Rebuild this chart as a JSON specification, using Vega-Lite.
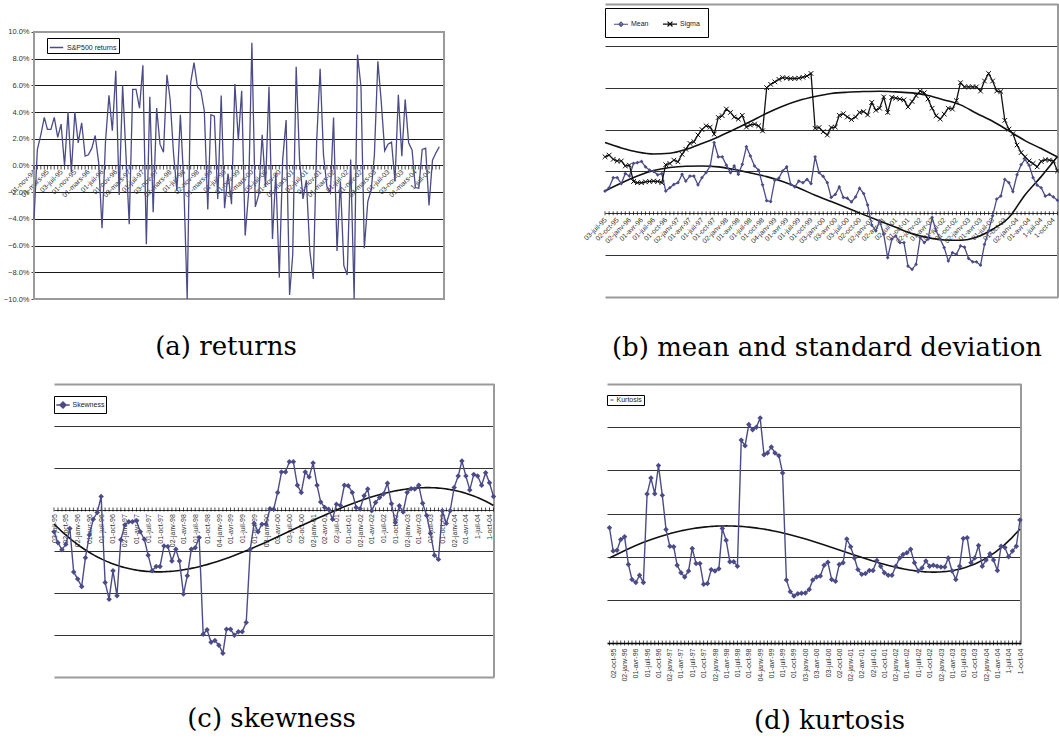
{
"$schema":"https://vega.github.io/schema/vega-lite/v6.json",
"padding":{"left":3,"top":3,"right":0,"bottom":0},
"background":"white",
"config":{"view":{"stroke":"#9a9a9a","strokeWidth":2},"axis":{"labelFont":"Liberation Sans","labelColor":"#333"},"legend":{"labelFont":"Liberation Sans","labelColor":"#222"},"title":{"font":"DejaVu Serif","fontSize":26,"fontWeight":"normal","color":"#000"}},
"spacing":22,
"resolve":{"scale":{"color":"independent"},"legend":{"color":"independent"}},
"vconcat":[
{"spacing":120,"resolve":{"scale":{"color":"independent"},"legend":{"color":"independent"}},"hconcat":[
{"width":410,"height":295,
"view":{"stroke":null},
"title":{"text":"(a) returns","orient":"bottom","frame":"group","anchor":"middle","baseline":"middle","offset":44,"dx":-13},
"data":{"format":{"parse":{"d":"date"}},"values":[
{"d":"1994-11-01","r":-4.05},{"d":"1994-12-01","r":1.2},{"d":"1995-01-01","r":2.3},{"d":"1995-02-01","r":3.6},{"d":"1995-03-01","r":2.7},{"d":"1995-04-01","r":2.7},{"d":"1995-05-01","r":3.6},{"d":"1995-06-01","r":2.1},{"d":"1995-07-01","r":3.1},{"d":"1995-08-01","r":0},{"d":"1995-09-01","r":4.0},{"d":"1995-10-01","r":-0.5},{"d":"1995-11-01","r":4.0},{"d":"1995-12-01","r":1.7},
{"d":"1996-01-01","r":3.2},{"d":"1996-02-01","r":0.7},{"d":"1996-03-01","r":0.8},{"d":"1996-04-01","r":1.3},{"d":"1996-05-01","r":2.25},{"d":"1996-06-01","r":0.2},{"d":"1996-07-01","r":-4.7},{"d":"1996-08-01","r":1.8},{"d":"1996-09-01","r":5.25},{"d":"1996-10-01","r":2.6},{"d":"1996-11-01","r":7.1},{"d":"1996-12-01","r":-2.2},
{"d":"1997-01-01","r":6.0},{"d":"1997-02-01","r":0.6},{"d":"1997-03-01","r":-4.4},{"d":"1997-04-01","r":5.7},{"d":"1997-05-01","r":5.7},{"d":"1997-06-01","r":4.3},{"d":"1997-07-01","r":7.5},{"d":"1997-08-01","r":-5.9},{"d":"1997-09-01","r":5.15},{"d":"1997-10-01","r":-3.5},{"d":"1997-11-01","r":4.3},{"d":"1997-12-01","r":1.6},
{"d":"1998-01-01","r":1.0},{"d":"1998-02-01","r":6.8},{"d":"1998-03-01","r":5.0},{"d":"1998-04-01","r":0.9},{"d":"1998-05-01","r":-1.9},{"d":"1998-06-01","r":3.8},{"d":"1998-07-01","r":-1.2},{"d":"1998-08-01","r":-10},{"d":"1998-09-01","r":6.2},{"d":"1998-10-01","r":7.7},{"d":"1998-11-01","r":5.9},{"d":"1998-12-01","r":5.6},
{"d":"1999-01-01","r":4.1},{"d":"1999-02-01","r":-3.3},{"d":"1999-03-01","r":3.8},{"d":"1999-04-01","r":3.7},{"d":"1999-05-01","r":-2.5},{"d":"1999-06-01","r":5.25},{"d":"1999-07-01","r":-3.2},{"d":"1999-08-01","r":-0.6},{"d":"1999-09-01","r":-2.9},{"d":"1999-10-01","r":6.1},{"d":"1999-11-01","r":1.9},{"d":"1999-12-01","r":5.6},
{"d":"2000-01-01","r":-5.25},{"d":"2000-02-01","r":-2.05},{"d":"2000-03-01","r":9.2},{"d":"2000-04-01","r":-3.1},{"d":"2000-05-01","r":-2.2},{"d":"2000-06-01","r":2.3},{"d":"2000-07-01","r":-1.6},{"d":"2000-08-01","r":5.9},{"d":"2000-09-01","r":-5.5},{"d":"2000-10-01","r":-0.55},{"d":"2000-11-01","r":-8.4},{"d":"2000-12-01","r":0.4},
{"d":"2001-01-01","r":3.4},{"d":"2001-02-01","r":-9.7},{"d":"2001-03-01","r":-6.7},{"d":"2001-04-01","r":7.4},{"d":"2001-05-01","r":0.45},{"d":"2001-06-01","r":-2.5},{"d":"2001-07-01","r":-1.1},{"d":"2001-08-01","r":-6.4},{"d":"2001-09-01","r":-8.5},{"d":"2001-10-01","r":1.8},{"d":"2001-11-01","r":7.25},{"d":"2001-12-01","r":0.8},
{"d":"2002-01-01","r":-1.6},{"d":"2002-02-01","r":-2.05},{"d":"2002-03-01","r":3.6},{"d":"2002-04-01","r":-6.4},{"d":"2002-05-01","r":-1.2},{"d":"2002-06-01","r":-7.5},{"d":"2002-07-01","r":-8.2},{"d":"2002-08-01","r":0.45},{"d":"2002-09-01","r":-10},{"d":"2002-10-01","r":8.3},{"d":"2002-11-01","r":5.9},{"d":"2002-12-01","r":-6.2},
{"d":"2003-01-01","r":-2.7},{"d":"2003-02-01","r":-1.8},{"d":"2003-03-01","r":0.8},{"d":"2003-04-01","r":7.8},{"d":"2003-05-01","r":4.8},{"d":"2003-06-01","r":1.1},{"d":"2003-07-01","r":1.6},{"d":"2003-08-01","r":1.75},{"d":"2003-09-01","r":-1.2},{"d":"2003-10-01","r":5.3},{"d":"2003-11-01","r":0.7},{"d":"2003-12-01","r":4.95},
{"d":"2004-01-01","r":1.7},{"d":"2004-02-01","r":1.15},{"d":"2004-03-01","r":-1.65},{"d":"2004-04-01","r":-1.7},{"d":"2004-05-01","r":1.2},{"d":"2004-06-01","r":1.3},{"d":"2004-07-01","r":-3.0},{"d":"2004-08-01","r":0.4},{"d":"2004-09-01","r":0.95},{"d":"2004-10-01","r":1.4}]},
"encoding":{
"x":{"field":"d","type":"temporal","scale":{"type":"utc","domain":[{"year":1994,"month":11,"date":1,"utc":true},{"year":2004,"month":11,"date":12,"utc":true}]},
"axis":{"orient":"bottom","offset":-133.5,"labelAngle":-45,"labelAlign":"right","labelBaseline":"middle","labelFontSize":7,"labelPadding":5,"labelOverlap":false,"labelFlush":false,"labelBound":false,"ticks":false,"domain":false,"grid":false,"title":null,
"labelExpr":"(utcyear(datum.value) == 2004 && utcmonth(datum.value) >= 6 ? utcFormat(datum.value, '%-d') : utcFormat(datum.value, '%d')) + '-' + ['janv','févr','mars','avr','mai','juin','juil','août','sept','oct','nov','déc'][utcmonth(datum.value)] + '-' + utcFormat(datum.value, '%y')",
"values":[{"year":1994,"month":11,"date":1,"utc":true},{"year":1995,"month":3,"date":1,"utc":true},{"year":1995,"month":7,"date":3,"utc":true},{"year":1995,"month":11,"date":1,"utc":true},{"year":1996,"month":3,"date":1,"utc":true},{"year":1996,"month":7,"date":1,"utc":true},{"year":1996,"month":11,"date":1,"utc":true},{"year":1997,"month":3,"date":3,"utc":true},{"year":1997,"month":7,"date":1,"utc":true},{"year":1997,"month":11,"date":3,"utc":true},{"year":1998,"month":3,"date":2,"utc":true},{"year":1998,"month":7,"date":1,"utc":true},{"year":1998,"month":11,"date":2,"utc":true},{"year":1999,"month":3,"date":1,"utc":true},{"year":1999,"month":7,"date":1,"utc":true},{"year":1999,"month":11,"date":1,"utc":true},{"year":2000,"month":3,"date":1,"utc":true},{"year":2000,"month":7,"date":3,"utc":true},{"year":2000,"month":11,"date":1,"utc":true},{"year":2001,"month":3,"date":1,"utc":true},{"year":2001,"month":7,"date":2,"utc":true},{"year":2001,"month":11,"date":1,"utc":true},{"year":2002,"month":3,"date":1,"utc":true},{"year":2002,"month":7,"date":1,"utc":true},{"year":2002,"month":11,"date":1,"utc":true},{"year":2003,"month":3,"date":3,"utc":true},{"year":2003,"month":7,"date":1,"utc":true},{"year":2003,"month":11,"date":3,"utc":true},{"year":2004,"month":3,"date":1,"utc":true},{"year":2004,"month":7,"date":1,"utc":true}]}},
"y":{"field":"r","type":"quantitative","scale":{"domain":[-10,12.097],"nice":false,"zero":false},
"axis":{"values":[-10,-8,-6,-4,-2,0,2,4,6,8,10],"labelOverlap":false,"labelExpr":"format(datum.value, '.1f') + '%'","grid":true,"gridColor":"#1a1a1a","gridWidth":1,"tickSize":3,"tickColor":"#444","labelFontSize":7.5,"labelPadding":2,"domain":false,"minExtent":30,"maxExtent":30,"title":null}}},
"layer":[
{"mark":{"type":"rect","fillOpacity":0,"stroke":"#9a9a9a","strokeWidth":2},
"encoding":{
"x":{"datum":{"year":1994,"month":11,"date":1,"utc":true},"type":"temporal",
"axis":{"orient":"bottom","offset":-133.5,"labelAngle":-45,"labelAlign":"right","labelBaseline":"middle","labelFontSize":7,"labelPadding":5,"labelOverlap":false,"labelFlush":false,"labelBound":false,"ticks":false,"domain":false,"grid":false,"title":null,
"labelExpr":"(utcyear(datum.value) == 2004 && utcmonth(datum.value) >= 6 ? utcFormat(datum.value, '%-d') : utcFormat(datum.value, '%d')) + '-' + ['janv','févr','mars','avr','mai','juin','juil','août','sept','oct','nov','déc'][utcmonth(datum.value)] + '-' + utcFormat(datum.value, '%y')",
"values":[{"year":1994,"month":11,"date":1,"utc":true},{"year":1995,"month":3,"date":1,"utc":true},{"year":1995,"month":7,"date":3,"utc":true},{"year":1995,"month":11,"date":1,"utc":true},{"year":1996,"month":3,"date":1,"utc":true},{"year":1996,"month":7,"date":1,"utc":true},{"year":1996,"month":11,"date":1,"utc":true},{"year":1997,"month":3,"date":3,"utc":true},{"year":1997,"month":7,"date":1,"utc":true},{"year":1997,"month":11,"date":3,"utc":true},{"year":1998,"month":3,"date":2,"utc":true},{"year":1998,"month":7,"date":1,"utc":true},{"year":1998,"month":11,"date":2,"utc":true},{"year":1999,"month":3,"date":1,"utc":true},{"year":1999,"month":7,"date":1,"utc":true},{"year":1999,"month":11,"date":1,"utc":true},{"year":2000,"month":3,"date":1,"utc":true},{"year":2000,"month":7,"date":3,"utc":true},{"year":2000,"month":11,"date":1,"utc":true},{"year":2001,"month":3,"date":1,"utc":true},{"year":2001,"month":7,"date":2,"utc":true},{"year":2001,"month":11,"date":1,"utc":true},{"year":2002,"month":3,"date":1,"utc":true},{"year":2002,"month":7,"date":1,"utc":true},{"year":2002,"month":11,"date":1,"utc":true},{"year":2003,"month":3,"date":3,"utc":true},{"year":2003,"month":7,"date":1,"utc":true},{"year":2003,"month":11,"date":3,"utc":true},{"year":2004,"month":3,"date":1,"utc":true},{"year":2004,"month":7,"date":1,"utc":true}]}},
"x2":{"datum":{"year":2004,"month":11,"date":12,"utc":true}},
"y":{"datum":-10,"type":"quantitative",
"axis":{"values":[-10,-8,-6,-4,-2,0,2,4,6,8,10],"labelOverlap":false,"labelExpr":"format(datum.value, '.1f') + '%'","grid":true,"gridColor":"#1a1a1a","gridWidth":1,"tickSize":3,"tickColor":"#444","labelFontSize":7.5,"labelPadding":2,"domain":false,"minExtent":30,"maxExtent":30,"title":null}},
"y2":{"datum":10}}},
{"mark":{"type":"tick","orient":"vertical","size":4,"thickness":1,"color":"#000","yOffset":2},
"encoding":{"y":{"datum":0,"type":"quantitative",
"axis":{"values":[-10,-8,-6,-4,-2,0,2,4,6,8,10],"labelOverlap":false,"labelExpr":"format(datum.value, '.1f') + '%'","grid":true,"gridColor":"#1a1a1a","gridWidth":1,"tickSize":3,"tickColor":"#444","labelFontSize":7.5,"labelPadding":2,"domain":false,"minExtent":30,"maxExtent":30,"title":null}}}},
{"mark":{"type":"line","strokeWidth":1.3},
"encoding":{"color":{"datum":"S&P500 returns","scale":{"range":["#4b4b88"]},
"legend":{"orient":"none","legendX":13,"legendY":34,"title":null,"strokeColor":"#000","fillColor":"#fff","padding":2,"labelFontSize":7,"symbolType":"stroke","symbolSize":180,"symbolStrokeWidth":1.5,"labelOffset":3}}}}
]},
{"width":453,"height":293,
"view":{"stroke":null},
"title":{"text":"(b) mean and standard deviation","orient":"bottom","frame":"group","anchor":"middle","baseline":"middle","offset":50,"dx":-4.5},
"data":{"format":{"parse":{"d":"date"}},"values":[
{"d":"1995-07-01","Mean":0.53,"Sigma":1.35},{"d":"1995-08-01","Mean":0.61,"Sigma":1.39},{"d":"1995-09-01","Mean":0.85,"Sigma":1.29},{"d":"1995-10-01","Mean":0.85,"Sigma":1.25},{"d":"1995-11-01","Mean":0.71,"Sigma":1.25},{"d":"1995-12-01","Mean":0.95,"Sigma":1.13},
{"d":"1996-01-01","Mean":0.89,"Sigma":1.15},{"d":"1996-02-01","Mean":1.19,"Sigma":0.76},{"d":"1996-03-01","Mean":1.21,"Sigma":0.73},{"d":"1996-04-01","Mean":1.24,"Sigma":0.73},{"d":"1996-05-01","Mean":1.11,"Sigma":0.75},{"d":"1996-06-01","Mean":1.03,"Sigma":0.76},{"d":"1996-07-01","Mean":1.0,"Sigma":0.77},{"d":"1996-08-01","Mean":0.92,"Sigma":0.76},{"d":"1996-09-01","Mean":0.95,"Sigma":0.73},{"d":"1996-10-01","Mean":0.53,"Sigma":1.16},{"d":"1996-11-01","Mean":0.61,"Sigma":1.19},{"d":"1996-12-01","Mean":0.69,"Sigma":1.27},
{"d":"1997-01-01","Mean":0.73,"Sigma":1.23},{"d":"1997-02-01","Mean":0.93,"Sigma":1.41},{"d":"1997-03-01","Mean":0.77,"Sigma":1.53},{"d":"1997-04-01","Mean":0.89,"Sigma":1.67},{"d":"1997-05-01","Mean":0.89,"Sigma":1.71},{"d":"1997-06-01","Mean":0.68,"Sigma":1.87},{"d":"1997-07-01","Mean":0.85,"Sigma":2.0},{"d":"1997-08-01","Mean":0.97,"Sigma":2.09},{"d":"1997-09-01","Mean":1.13,"Sigma":2.06},{"d":"1997-10-01","Mean":1.69,"Sigma":1.89},{"d":"1997-11-01","Mean":1.35,"Sigma":2.29},{"d":"1997-12-01","Mean":1.35,"Sigma":2.33},
{"d":"1998-01-01","Mean":1.15,"Sigma":2.49},{"d":"1998-02-01","Mean":0.97,"Sigma":2.41},{"d":"1998-03-01","Mean":1.13,"Sigma":2.3},{"d":"1998-04-01","Mean":0.93,"Sigma":2.25},{"d":"1998-05-01","Mean":1.17,"Sigma":2.34},{"d":"1998-06-01","Mean":1.59,"Sigma":2.06},{"d":"1998-07-01","Mean":1.37,"Sigma":2.11},{"d":"1998-08-01","Mean":1.13,"Sigma":2.13},{"d":"1998-09-01","Mean":1.03,"Sigma":2.09},{"d":"1998-10-01","Mean":0.68,"Sigma":1.97},{"d":"1998-11-01","Mean":0.3,"Sigma":3.0},{"d":"1998-12-01","Mean":0.28,"Sigma":3.08},
{"d":"1999-01-01","Mean":0.79,"Sigma":3.14},{"d":"1999-02-01","Mean":0.84,"Sigma":3.2},{"d":"1999-03-01","Mean":1.01,"Sigma":3.24},{"d":"1999-04-01","Mean":1.11,"Sigma":3.23},{"d":"1999-05-01","Mean":0.69,"Sigma":3.22},{"d":"1999-06-01","Mean":0.63,"Sigma":3.22},{"d":"1999-07-01","Mean":0.77,"Sigma":3.23},{"d":"1999-08-01","Mean":0.73,"Sigma":3.25},{"d":"1999-09-01","Mean":0.81,"Sigma":3.28},{"d":"1999-10-01","Mean":0.71,"Sigma":3.34},{"d":"1999-11-01","Mean":1.35,"Sigma":2.03},{"d":"1999-12-01","Mean":0.97,"Sigma":2.05},
{"d":"2000-01-01","Mean":0.88,"Sigma":1.95},{"d":"2000-02-01","Mean":0.73,"Sigma":1.87},{"d":"2000-03-01","Mean":0.38,"Sigma":2.05},{"d":"2000-04-01","Mean":0.45,"Sigma":2.06},{"d":"2000-05-01","Mean":0.63,"Sigma":2.34},{"d":"2000-06-01","Mean":0.38,"Sigma":2.38},{"d":"2000-07-01","Mean":0.36,"Sigma":2.3},{"d":"2000-08-01","Mean":0.27,"Sigma":2.24},{"d":"2000-09-01","Mean":0.39,"Sigma":2.3},{"d":"2000-10-01","Mean":0.6,"Sigma":2.41},{"d":"2000-11-01","Mean":0.47,"Sigma":2.43},{"d":"2000-12-01","Mean":0.2,"Sigma":2.35},
{"d":"2001-01-01","Mean":-0.28,"Sigma":2.65},{"d":"2001-02-01","Mean":-0.42,"Sigma":2.46},{"d":"2001-03-01","Mean":-0.18,"Sigma":2.51},{"d":"2001-04-01","Mean":-0.5,"Sigma":2.78},{"d":"2001-05-01","Mean":-1.06,"Sigma":2.41},{"d":"2001-06-01","Mean":-0.62,"Sigma":2.77},{"d":"2001-07-01","Mean":-0.54,"Sigma":2.75},{"d":"2001-08-01","Mean":-0.7,"Sigma":2.73},{"d":"2001-09-01","Mean":-0.7,"Sigma":2.71},{"d":"2001-10-01","Mean":-1.26,"Sigma":2.54},{"d":"2001-11-01","Mean":-1.34,"Sigma":2.67},{"d":"2001-12-01","Mean":-1.22,"Sigma":2.81},
{"d":"2002-01-01","Mean":-0.58,"Sigma":2.92},{"d":"2002-02-01","Mean":-0.7,"Sigma":2.88},{"d":"2002-03-01","Mean":-0.62,"Sigma":2.73},{"d":"2002-04-01","Mean":-0.1,"Sigma":2.51},{"d":"2002-05-01","Mean":-0.42,"Sigma":2.33},{"d":"2002-06-01","Mean":-0.62,"Sigma":2.25},{"d":"2002-07-01","Mean":-0.82,"Sigma":2.37},{"d":"2002-08-01","Mean":-1.14,"Sigma":2.51},{"d":"2002-09-01","Mean":-0.94,"Sigma":2.49},{"d":"2002-10-01","Mean":-0.98,"Sigma":2.69},{"d":"2002-11-01","Mean":-0.78,"Sigma":3.12},{"d":"2002-12-01","Mean":-0.81,"Sigma":3.02},
{"d":"2003-01-01","Mean":-1.08,"Sigma":3.02},{"d":"2003-02-01","Mean":-1.16,"Sigma":3.02},{"d":"2003-03-01","Mean":-1.16,"Sigma":3.02},{"d":"2003-04-01","Mean":-1.24,"Sigma":2.92},{"d":"2003-05-01","Mean":-0.74,"Sigma":3.16},{"d":"2003-06-01","Mean":-0.42,"Sigma":3.34},{"d":"2003-07-01","Mean":-0.06,"Sigma":3.16},{"d":"2003-08-01","Mean":0.34,"Sigma":2.92},{"d":"2003-09-01","Mean":0.41,"Sigma":2.91},{"d":"2003-10-01","Mean":0.81,"Sigma":2.22},{"d":"2003-11-01","Mean":0.73,"Sigma":2.01},{"d":"2003-12-01","Mean":0.52,"Sigma":1.9},
{"d":"2004-01-01","Mean":0.92,"Sigma":1.63},{"d":"2004-02-01","Mean":1.16,"Sigma":1.45},{"d":"2004-03-01","Mean":1.29,"Sigma":1.35},{"d":"2004-04-01","Mean":1.15,"Sigma":1.25},{"d":"2004-05-01","Mean":0.85,"Sigma":1.19},{"d":"2004-06-01","Mean":0.67,"Sigma":1.11},{"d":"2004-07-01","Mean":0.61,"Sigma":1.24},{"d":"2004-08-01","Mean":0.41,"Sigma":1.28},{"d":"2004-09-01","Mean":0.45,"Sigma":1.27},{"d":"2004-10-01","Mean":0.39,"Sigma":1.25},{"d":"2004-11-01","Mean":0.31,"Sigma":1.01}]},
"transform":[{"fold":["Mean","Sigma"],"as":["s","v"]}],
"encoding":{
"x":{"field":"d","type":"temporal","scale":{"type":"utc","domain":[{"year":1995,"month":7,"date":1,"utc":true},{"year":2004,"month":11,"date":5,"utc":true}]},
"axis":{"orient":"bottom","offset":-83.5,"labelAngle":-45,"labelAlign":"right","labelBaseline":"middle","labelFontSize":7,"labelPadding":5,"labelOverlap":false,"labelFlush":false,"labelBound":false,"ticks":false,"domain":false,"grid":false,"title":null,
"labelExpr":"(utcyear(datum.value) == 2004 && utcmonth(datum.value) >= 6 ? utcFormat(datum.value, '%-d') : utcFormat(datum.value, '%d')) + '-' + ['janv','févr','mars','avr','mai','juin','juil','août','sept','oct','nov','déc'][utcmonth(datum.value)] + '-' + utcFormat(datum.value, '%y')",
"values":[{"year":1995,"month":7,"date":3,"utc":true},{"year":1995,"month":10,"date":2,"utc":true},{"year":1996,"month":1,"date":2,"utc":true},{"year":1996,"month":4,"date":1,"utc":true},{"year":1996,"month":7,"date":1,"utc":true},{"year":1996,"month":10,"date":1,"utc":true},{"year":1997,"month":1,"date":2,"utc":true},{"year":1997,"month":4,"date":1,"utc":true},{"year":1997,"month":7,"date":1,"utc":true},{"year":1997,"month":10,"date":1,"utc":true},{"year":1998,"month":1,"date":2,"utc":true},{"year":1998,"month":4,"date":1,"utc":true},{"year":1998,"month":7,"date":1,"utc":true},{"year":1998,"month":10,"date":1,"utc":true},{"year":1999,"month":1,"date":4,"utc":true},{"year":1999,"month":4,"date":1,"utc":true},{"year":1999,"month":7,"date":1,"utc":true},{"year":1999,"month":10,"date":1,"utc":true},{"year":2000,"month":1,"date":3,"utc":true},{"year":2000,"month":4,"date":3,"utc":true},{"year":2000,"month":7,"date":3,"utc":true},{"year":2000,"month":10,"date":2,"utc":true},{"year":2001,"month":1,"date":2,"utc":true},{"year":2001,"month":4,"date":2,"utc":true},{"year":2001,"month":7,"date":2,"utc":true},{"year":2001,"month":10,"date":1,"utc":true},{"year":2002,"month":1,"date":2,"utc":true},{"year":2002,"month":4,"date":1,"utc":true},{"year":2002,"month":7,"date":1,"utc":true},{"year":2002,"month":10,"date":1,"utc":true},{"year":2003,"month":1,"date":2,"utc":true},{"year":2003,"month":4,"date":1,"utc":true},{"year":2003,"month":7,"date":1,"utc":true},{"year":2003,"month":10,"date":1,"utc":true},{"year":2004,"month":1,"date":2,"utc":true},{"year":2004,"month":4,"date":1,"utc":true},{"year":2004,"month":7,"date":1,"utc":true},{"year":2004,"month":10,"date":1,"utc":true}]}},
"y":{"field":"v","type":"quantitative","scale":{"domain":[-2,5],"nice":false,"zero":false},
"axis":{"values":[-2,-1,0,1,2,3,4,5],"labelOverlap":false,"labels":false,"ticks":false,"domain":false,"grid":true,"gridColor":{"condition":{"test":"datum.value == 5 || datum.value == -2","value":"#9a9a9a"},"value":"#333333"},"gridWidth":{"condition":{"test":"datum.value == 5 || datum.value == -2","value":2},"value":1.2},"title":null,"minExtent":40,"maxExtent":40}}},
"layer":[
{"mark":{"type":"rule","color":"#9a9a9a","strokeWidth":2},
"encoding":{"x":{"datum":{"year":2004,"month":11,"date":5,"utc":true},"type":"temporal"},
"y":{"datum":-2,"type":"quantitative","axis":{"values":[-2,-1,0,1,2,3,4,5],"labelOverlap":false,"labels":false,"ticks":false,"domain":false,"grid":true,"gridColor":{"condition":{"test":"datum.value == 5 || datum.value == -2","value":"#9a9a9a"},"value":"#333333"},"gridWidth":{"condition":{"test":"datum.value == 5 || datum.value == -2","value":2},"value":1.2},"title":null,"minExtent":40,"maxExtent":40}},
"y2":{"datum":5}}},
{"transform":[{"filter":"datum.s == 'Mean'"}],"mark":{"type":"tick","orient":"vertical","size":4,"thickness":1,"color":"#000"},
"encoding":{"y":{"datum":0,"type":"quantitative","axis":{"values":[-2,-1,0,1,2,3,4,5],"labelOverlap":false,"labels":false,"ticks":false,"domain":false,"grid":true,"gridColor":{"condition":{"test":"datum.value == 5 || datum.value == -2","value":"#9a9a9a"},"value":"#333333"},"gridWidth":{"condition":{"test":"datum.value == 5 || datum.value == -2","value":2},"value":1.2},"title":null,"minExtent":40,"maxExtent":40}}}},
{"data":{"format":{"parse":{"d":"date"}},"values":[
{"d":"1995-07-01","s":"Mean","v":0.534},{"d":"1995-11-01","s":"Mean","v":0.725},{"d":"1996-03-01","s":"Mean","v":0.892},{"d":"1996-07-01","s":"Mean","v":1.02},{"d":"1996-11-01","s":"Mean","v":1.092},{"d":"1997-03-01","s":"Mean","v":1.124},{"d":"1997-07-01","s":"Mean","v":1.131},{"d":"1997-11-01","s":"Mean","v":1.108},{"d":"1998-03-01","s":"Mean","v":1.044},{"d":"1998-07-01","s":"Mean","v":0.964},{"d":"1998-11-01","s":"Mean","v":0.876},{"d":"1999-03-01","s":"Mean","v":0.757},{"d":"1999-07-01","s":"Mean","v":0.606},{"d":"1999-11-01","s":"Mean","v":0.43},{"d":"2000-03-01","s":"Mean","v":0.279},{"d":"2000-07-01","s":"Mean","v":0.127},{"d":"2000-11-01","s":"Mean","v":-0.032},{"d":"2001-03-01","s":"Mean","v":-0.183},{"d":"2001-07-01","s":"Mean","v":-0.335},{"d":"2001-11-01","s":"Mean","v":-0.486},{"d":"2002-03-01","s":"Mean","v":-0.582},{"d":"2002-07-01","s":"Mean","v":-0.637},{"d":"2002-11-01","s":"Mean","v":-0.645},{"d":"2003-03-01","s":"Mean","v":-0.574},{"d":"2003-07-01","s":"Mean","v":-0.382},{"d":"2003-11-01","s":"Mean","v":-0.1},{"d":"2004-03-01","s":"Mean","v":0.438},{"d":"2004-07-01","s":"Mean","v":0.876},{"d":"2004-11-01","s":"Mean","v":1.355},
{"d":"1995-07-01","s":"Sigma","v":1.689},{"d":"1995-11-01","s":"Sigma","v":1.562},{"d":"1996-03-01","s":"Sigma","v":1.466},{"d":"1996-07-01","s":"Sigma","v":1.418},{"d":"1996-11-01","s":"Sigma","v":1.434},{"d":"1997-03-01","s":"Sigma","v":1.522},{"d":"1997-07-01","s":"Sigma","v":1.665},{"d":"1997-11-01","s":"Sigma","v":1.825},{"d":"1998-03-01","s":"Sigma","v":2.0},{"d":"1998-07-01","s":"Sigma","v":2.191},{"d":"1998-11-01","s":"Sigma","v":2.39},{"d":"1999-03-01","s":"Sigma","v":2.558},{"d":"1999-07-01","s":"Sigma","v":2.693},{"d":"1999-11-01","s":"Sigma","v":2.789},{"d":"2000-03-01","s":"Sigma","v":2.861},{"d":"2000-07-01","s":"Sigma","v":2.892},{"d":"2000-11-01","s":"Sigma","v":2.908},{"d":"2001-03-01","s":"Sigma","v":2.916},{"d":"2001-07-01","s":"Sigma","v":2.9},{"d":"2001-11-01","s":"Sigma","v":2.876},{"d":"2002-03-01","s":"Sigma","v":2.813},{"d":"2002-07-01","s":"Sigma","v":2.709},{"d":"2002-11-01","s":"Sigma","v":2.59},{"d":"2003-03-01","s":"Sigma","v":2.39},{"d":"2003-07-01","s":"Sigma","v":2.199},{"d":"2003-11-01","s":"Sigma","v":1.968},{"d":"2004-03-01","s":"Sigma","v":1.737},{"d":"2004-07-01","s":"Sigma","v":1.546},{"d":"2004-11-01","s":"Sigma","v":1.347}]},
"transform":[],
"mark":{"type":"line","color":"#111","strokeWidth":1.6,"interpolate":"monotone"},"encoding":{"detail":{"field":"s","type":"nominal"}}},
{"mark":{"type":"line","strokeWidth":1.3},
"encoding":{"color":{"field":"s","type":"nominal","scale":{"domain":["Mean","Sigma"],"range":["#4b4b88","#111111"]},
"legend":{"orient":"none","legendX":0,"legendY":4,"direction":"horizontal","title":null,"strokeColor":"#000","fillColor":"#fff","padding":8,"labelFontSize":7,"symbolSize":200,"symbolStrokeWidth":1.2,"labelOffset":2,"columnPadding":11,
"encode":{"symbols":{"update":{"shape":{"signal":"datum.value == 'Mean' ? 'M-1,0L1,0M0,-0.3L0.3,0L0,0.3L-0.3,0Z' : 'M-1,0L1,0M-0.35,-0.35L0.35,0.35M-0.35,0.35L0.35,-0.35'"}}}}}}}},
{"transform":[{"filter":"datum.s == 'Mean'"}],"mark":{"type":"point","shape":"diamond","filled":true,"size":14,"color":"#4b4b88","opacity":1}},
{"transform":[{"filter":"datum.s == 'Sigma'"}],"mark":{"type":"point","shape":"M-1,-1L1,1M-1,1L1,-1","filled":false,"size":22,"color":"#111111","strokeWidth":1,"opacity":1}}
]}
]},
{"spacing":70,"resolve":{"scale":{"color":"independent"},"legend":{"color":"independent"}},"hconcat":[
{"width":460,"height":293,
"view":{"stroke":null},
"title":{"text":"(c) skewness","orient":"bottom","frame":"group","anchor":"middle","baseline":"middle","offset":41,"dx":7.5},
"data":{"format":{"parse":{"d":"date"}},"values":[
{"d":"1995-07-01","v":-0.53},{"d":"1995-08-01","v":-0.79},{"d":"1995-09-01","v":-0.96},{"d":"1995-10-01","v":-0.83},{"d":"1995-11-01","v":-0.45},{"d":"1995-12-01","v":-1.49},
{"d":"1996-01-01","v":-1.66},{"d":"1996-02-01","v":-1.84},{"d":"1996-03-01","v":-1.15},{"d":"1996-04-01","v":-0.61},{"d":"1996-05-01","v":-0.23},{"d":"1996-06-01","v":-0.07},{"d":"1996-07-01","v":0.31},{"d":"1996-08-01","v":-1.74},{"d":"1996-09-01","v":-2.14},{"d":"1996-10-01","v":-1.46},{"d":"1996-11-01","v":-2.06},{"d":"1996-12-01","v":-0.72},
{"d":"1997-01-01","v":-0.37},{"d":"1997-02-01","v":-0.29},{"d":"1997-03-01","v":-0.29},{"d":"1997-04-01","v":-0.27},{"d":"1997-05-01","v":-0.53},{"d":"1997-06-01","v":-0.71},{"d":"1997-07-01","v":-1.09},{"d":"1997-08-01","v":-1.46},{"d":"1997-09-01","v":-1.36},{"d":"1997-10-01","v":-1.36},{"d":"1997-11-01","v":-0.87},{"d":"1997-12-01","v":-0.88},
{"d":"1998-01-01","v":-1.23},{"d":"1998-02-01","v":-0.95},{"d":"1998-03-01","v":-1.23},{"d":"1998-04-01","v":-2.02},{"d":"1998-05-01","v":-1.58},{"d":"1998-06-01","v":-0.95},{"d":"1998-07-01","v":-0.91},{"d":"1998-08-01","v":-0.67},{"d":"1998-09-01","v":-2.98},{"d":"1998-10-01","v":-2.87},{"d":"1998-11-01","v":-3.17},{"d":"1998-12-01","v":-3.13},
{"d":"1999-01-01","v":-3.24},{"d":"1999-02-01","v":-3.43},{"d":"1999-03-01","v":-2.86},{"d":"1999-04-01","v":-2.86},{"d":"1999-05-01","v":-3.0},{"d":"1999-06-01","v":-2.92},{"d":"1999-07-01","v":-2.92},{"d":"1999-08-01","v":-2.7},{"d":"1999-09-01","v":-0.95},{"d":"1999-10-01","v":-0.33},{"d":"1999-11-01","v":-0.53},{"d":"1999-12-01","v":-0.35},
{"d":"2000-01-01","v":-0.35},{"d":"2000-02-01","v":0.02},{"d":"2000-03-01","v":0.01},{"d":"2000-04-01","v":0.41},{"d":"2000-05-01","v":0.9},{"d":"2000-06-01","v":0.9},{"d":"2000-07-01","v":1.14},{"d":"2000-08-01","v":1.14},{"d":"2000-09-01","v":0.58},{"d":"2000-10-01","v":0.41},{"d":"2000-11-01","v":0.9},{"d":"2000-12-01","v":0.78},
{"d":"2001-01-01","v":1.11},{"d":"2001-02-01","v":0.58},{"d":"2001-03-01","v":0.18},{"d":"2001-04-01","v":0.05},{"d":"2001-05-01","v":0.01},{"d":"2001-06-01","v":-0.23},{"d":"2001-07-01","v":0.13},{"d":"2001-08-01","v":0.1},{"d":"2001-09-01","v":0.58},{"d":"2001-10-01","v":0.57},{"d":"2001-11-01","v":0.41},{"d":"2001-12-01","v":0.05},
{"d":"2002-01-01","v":0.02},{"d":"2002-02-01","v":0.33},{"d":"2002-03-01","v":0.49},{"d":"2002-04-01","v":-0.03},{"d":"2002-05-01","v":0.17},{"d":"2002-06-01","v":0.29},{"d":"2002-07-01","v":0.37},{"d":"2002-08-01","v":0.63},{"d":"2002-09-01","v":0.14},{"d":"2002-10-01","v":-0.31},{"d":"2002-11-01","v":0.09},{"d":"2002-12-01","v":-0.06},
{"d":"2003-01-01","v":0.41},{"d":"2003-02-01","v":0.5},{"d":"2003-03-01","v":0.49},{"d":"2003-04-01","v":0.58},{"d":"2003-05-01","v":0.15},{"d":"2003-06-01","v":-0.14},{"d":"2003-07-01","v":-0.57},{"d":"2003-08-01","v":-1.09},{"d":"2003-09-01","v":-1.19},{"d":"2003-10-01","v":-0.03},{"d":"2003-11-01","v":-0.33},{"d":"2003-12-01","v":-0.03},
{"d":"2004-01-01","v":0.53},{"d":"2004-02-01","v":0.8},{"d":"2004-03-01","v":1.16},{"d":"2004-04-01","v":0.8},{"d":"2004-05-01","v":0.47},{"d":"2004-06-01","v":0.84},{"d":"2004-07-01","v":0.8},{"d":"2004-08-01","v":0.58},{"d":"2004-09-01","v":0.88},{"d":"2004-10-01","v":0.64},{"d":"2004-11-01","v":0.31}]},
"encoding":{
"x":{"field":"d","type":"temporal","scale":{"type":"utc","domain":[{"year":1995,"month":1,"date":27,"utc":true},{"year":2004,"month":11,"date":5,"utc":true}]},
"axis":{"orient":"bottom","offset":-167.4,"labelAngle":270,"labelAlign":"right","labelBaseline":"middle","labelFontSize":7,"labelPadding":4,"labelOverlap":false,"labelFlush":false,"labelBound":false,"ticks":false,"domain":false,"grid":false,"title":null,
"labelExpr":"(utcyear(datum.value) == 2004 && utcmonth(datum.value) >= 6 ? utcFormat(datum.value, '%-d') : utcFormat(datum.value, '%d')) + '-' + ['janv','févr','mars','avr','mai','juin','juil','août','sept','oct','nov','déc'][utcmonth(datum.value)] + '-' + utcFormat(datum.value, '%y')",
"values":[{"year":1995,"month":7,"date":3,"utc":true},{"year":1995,"month":10,"date":2,"utc":true},{"year":1996,"month":1,"date":2,"utc":true},{"year":1996,"month":4,"date":1,"utc":true},{"year":1996,"month":7,"date":1,"utc":true},{"year":1996,"month":10,"date":1,"utc":true},{"year":1997,"month":1,"date":2,"utc":true},{"year":1997,"month":4,"date":1,"utc":true},{"year":1997,"month":7,"date":1,"utc":true},{"year":1997,"month":10,"date":1,"utc":true},{"year":1998,"month":1,"date":2,"utc":true},{"year":1998,"month":4,"date":1,"utc":true},{"year":1998,"month":7,"date":1,"utc":true},{"year":1998,"month":10,"date":1,"utc":true},{"year":1999,"month":1,"date":4,"utc":true},{"year":1999,"month":4,"date":1,"utc":true},{"year":1999,"month":7,"date":1,"utc":true},{"year":1999,"month":10,"date":1,"utc":true},{"year":2000,"month":1,"date":3,"utc":true},{"year":2000,"month":4,"date":3,"utc":true},{"year":2000,"month":7,"date":3,"utc":true},{"year":2000,"month":10,"date":2,"utc":true},{"year":2001,"month":1,"date":2,"utc":true},{"year":2001,"month":4,"date":2,"utc":true},{"year":2001,"month":7,"date":2,"utc":true},{"year":2001,"month":10,"date":1,"utc":true},{"year":2002,"month":1,"date":2,"utc":true},{"year":2002,"month":4,"date":1,"utc":true},{"year":2002,"month":7,"date":1,"utc":true},{"year":2002,"month":10,"date":1,"utc":true},{"year":2003,"month":1,"date":2,"utc":true},{"year":2003,"month":4,"date":1,"utc":true},{"year":2003,"month":7,"date":1,"utc":true},{"year":2003,"month":10,"date":1,"utc":true},{"year":2004,"month":1,"date":2,"utc":true},{"year":2004,"month":4,"date":1,"utc":true},{"year":2004,"month":7,"date":1,"utc":true},{"year":2004,"month":10,"date":1,"utc":true}]}},
"y":{"field":"v","type":"quantitative","scale":{"domain":[-4,3],"nice":false,"zero":false},
"axis":{"values":[-4,-3,-2,-1,0,1,2,3],"labelOverlap":false,"labels":false,"ticks":false,"domain":false,"grid":true,"gridDash":[0,20,440,0],"gridColor":{"condition":{"test":"datum.value == 3 || datum.value == -4","value":"#9a9a9a"},"value":"#333333"},"gridWidth":{"condition":{"test":"datum.value == 3 || datum.value == -4","value":2},"value":1.2},"title":null,"minExtent":30,"maxExtent":30}}},
"layer":[
{"mark":{"type":"rule","color":"#9a9a9a","strokeWidth":2},
"encoding":{
"x":{"datum":{"year":2004,"month":11,"date":5,"utc":true},"type":"temporal"},
"y":{"datum":-4,"type":"quantitative","axis":{"values":[-4,-3,-2,-1,0,1,2,3],"labelOverlap":false,"labels":false,"ticks":false,"domain":false,"grid":true,"gridDash":[0,20,440,0],"gridColor":{"condition":{"test":"datum.value == 3 || datum.value == -4","value":"#9a9a9a"},"value":"#333333"},"gridWidth":{"condition":{"test":"datum.value == 3 || datum.value == -4","value":2},"value":1.2},"title":null,"minExtent":30,"maxExtent":30}},
"y2":{"datum":3}}},
{"mark":{"type":"tick","orient":"vertical","size":4,"thickness":1,"color":"#000"},
"encoding":{"y":{"datum":0,"type":"quantitative","axis":{"values":[-4,-3,-2,-1,0,1,2,3],"labelOverlap":false,"labels":false,"ticks":false,"domain":false,"grid":true,"gridDash":[0,20,440,0],"gridColor":{"condition":{"test":"datum.value == 3 || datum.value == -4","value":"#9a9a9a"},"value":"#333333"},"gridWidth":{"condition":{"test":"datum.value == 3 || datum.value == -4","value":2},"value":1.2},"title":null,"minExtent":30,"maxExtent":30}}}},
{"transform":[{"regression":"v","on":"d","method":"poly","order":3}],"mark":{"type":"line","color":"#111","strokeWidth":1.6}},
{"mark":{"type":"line","strokeWidth":1.4,"point":{"filled":true,"shape":"diamond","size":30}},
"encoding":{"color":{"datum":"Skewness","scale":{"range":["#4b4b88"]},
"legend":{"orient":"none","legendX":20,"legendY":12,"title":null,"strokeColor":"#000","fillColor":"#fff","padding":1.5,"labelFontSize":7,"symbolType":"M-1,0L1,0M0,-0.45L0.45,0L0,0.45L-0.45,0Z","symbolSize":180,"symbolStrokeWidth":1.5,"labelOffset":2}}}}
]},
{"width":414,"height":259,
"view":{"stroke":null},
"title":{"text":"(d) kurtosis","orient":"bottom","frame":"group","anchor":"middle","baseline":"middle","offset":40,"dx":15.5},
"data":{"format":{"parse":{"d":"date"}},"values":[
{"d":"1995-09-01","v":2.67},{"d":"1995-10-01","v":2.13},{"d":"1995-11-01","v":2.15},{"d":"1995-12-01","v":2.4},
{"d":"1996-01-01","v":2.46},{"d":"1996-02-01","v":1.82},{"d":"1996-03-01","v":1.47},{"d":"1996-04-01","v":1.4},{"d":"1996-05-01","v":1.57},{"d":"1996-06-01","v":1.4},{"d":"1996-07-01","v":3.45},{"d":"1996-08-01","v":3.82},{"d":"1996-09-01","v":3.46},{"d":"1996-10-01","v":4.11},{"d":"1996-11-01","v":3.42},{"d":"1996-12-01","v":2.63},
{"d":"1997-01-01","v":2.24},{"d":"1997-02-01","v":2.23},{"d":"1997-03-01","v":1.8},{"d":"1997-04-01","v":1.63},{"d":"1997-05-01","v":1.53},{"d":"1997-06-01","v":1.67},{"d":"1997-07-01","v":2.19},{"d":"1997-08-01","v":1.84},{"d":"1997-09-01","v":1.84},{"d":"1997-10-01","v":1.36},{"d":"1997-11-01","v":1.38},{"d":"1997-12-01","v":1.7},
{"d":"1998-01-01","v":1.67},{"d":"1998-02-01","v":1.72},{"d":"1998-03-01","v":2.65},{"d":"1998-04-01","v":2.38},{"d":"1998-05-01","v":1.88},{"d":"1998-06-01","v":1.88},{"d":"1998-07-01","v":1.78},{"d":"1998-08-01","v":4.7},{"d":"1998-09-01","v":4.57},{"d":"1998-10-01","v":5.06},{"d":"1998-11-01","v":4.94},{"d":"1998-12-01","v":5.0},
{"d":"1999-01-01","v":5.21},{"d":"1999-02-01","v":4.36},{"d":"1999-03-01","v":4.4},{"d":"1999-04-01","v":4.54},{"d":"1999-05-01","v":4.4},{"d":"1999-06-01","v":4.34},{"d":"1999-07-01","v":3.94},{"d":"1999-08-01","v":1.46},{"d":"1999-09-01","v":1.19},{"d":"1999-10-01","v":1.09},{"d":"1999-11-01","v":1.14},{"d":"1999-12-01","v":1.15},
{"d":"2000-01-01","v":1.16},{"d":"2000-02-01","v":1.24},{"d":"2000-03-01","v":1.46},{"d":"2000-04-01","v":1.53},{"d":"2000-05-01","v":1.55},{"d":"2000-06-01","v":1.8},{"d":"2000-07-01","v":1.87},{"d":"2000-08-01","v":1.47},{"d":"2000-09-01","v":1.43},{"d":"2000-10-01","v":1.82},{"d":"2000-11-01","v":1.86},{"d":"2000-12-01","v":2.41},
{"d":"2001-01-01","v":2.23},{"d":"2001-02-01","v":1.97},{"d":"2001-03-01","v":1.7},{"d":"2001-04-01","v":1.59},{"d":"2001-05-01","v":1.61},{"d":"2001-06-01","v":1.68},{"d":"2001-07-01","v":1.68},{"d":"2001-08-01","v":1.91},{"d":"2001-09-01","v":1.78},{"d":"2001-10-01","v":1.63},{"d":"2001-11-01","v":1.57},{"d":"2001-12-01","v":1.57},
{"d":"2002-01-01","v":1.78},{"d":"2002-02-01","v":1.97},{"d":"2002-03-01","v":2.05},{"d":"2002-04-01","v":2.09},{"d":"2002-05-01","v":2.17},{"d":"2002-06-01","v":1.86},{"d":"2002-07-01","v":1.67},{"d":"2002-08-01","v":1.74},{"d":"2002-09-01","v":1.9},{"d":"2002-10-01","v":1.78},{"d":"2002-11-01","v":1.8},{"d":"2002-12-01","v":1.78},
{"d":"2003-01-01","v":1.76},{"d":"2003-02-01","v":1.76},{"d":"2003-03-01","v":1.97},{"d":"2003-04-01","v":1.67},{"d":"2003-05-01","v":1.47},{"d":"2003-06-01","v":1.78},{"d":"2003-07-01","v":2.42},{"d":"2003-08-01","v":2.44},{"d":"2003-09-01","v":1.86},{"d":"2003-10-01","v":1.97},{"d":"2003-11-01","v":2.26},{"d":"2003-12-01","v":1.78},
{"d":"2004-01-01","v":1.92},{"d":"2004-02-01","v":2.07},{"d":"2004-03-01","v":1.92},{"d":"2004-04-01","v":1.68},{"d":"2004-05-01","v":2.24},{"d":"2004-06-01","v":2.21},{"d":"2004-07-01","v":2.0},{"d":"2004-08-01","v":2.13},{"d":"2004-09-01","v":2.24},{"d":"2004-10-01","v":2.85}]},
"encoding":{
"x":{"field":"d","type":"temporal","scale":{"type":"utc","domain":[{"year":1995,"month":8,"date":12,"utc":true},{"year":2004,"month":10,"date":9,"utc":true}]},
"axis":{"orient":"bottom","labelAngle":270,"labelAlign":"right","labelBaseline":"middle","labelFontSize":7,"labelPadding":5,"labelOverlap":false,"labelFlush":false,"labelBound":false,"ticks":false,"domain":true,"domainColor":"#000","domainWidth":1.5,"grid":false,"title":null,
"labelExpr":"(utcyear(datum.value) == 2004 && utcmonth(datum.value) >= 6 ? utcFormat(datum.value, '%-d') : utcFormat(datum.value, '%d')) + '-' + ['janv','févr','mars','avr','mai','juin','juil','août','sept','oct','nov','déc'][utcmonth(datum.value)] + '-' + utcFormat(datum.value, '%y')",
"values":[{"year":1995,"month":10,"date":2,"utc":true},{"year":1996,"month":1,"date":2,"utc":true},{"year":1996,"month":4,"date":1,"utc":true},{"year":1996,"month":7,"date":1,"utc":true},{"year":1996,"month":10,"date":1,"utc":true},{"year":1997,"month":1,"date":2,"utc":true},{"year":1997,"month":4,"date":1,"utc":true},{"year":1997,"month":7,"date":1,"utc":true},{"year":1997,"month":10,"date":1,"utc":true},{"year":1998,"month":1,"date":2,"utc":true},{"year":1998,"month":4,"date":1,"utc":true},{"year":1998,"month":7,"date":1,"utc":true},{"year":1998,"month":10,"date":1,"utc":true},{"year":1999,"month":1,"date":4,"utc":true},{"year":1999,"month":4,"date":1,"utc":true},{"year":1999,"month":7,"date":1,"utc":true},{"year":1999,"month":10,"date":1,"utc":true},{"year":2000,"month":1,"date":3,"utc":true},{"year":2000,"month":4,"date":3,"utc":true},{"year":2000,"month":7,"date":3,"utc":true},{"year":2000,"month":10,"date":2,"utc":true},{"year":2001,"month":1,"date":2,"utc":true},{"year":2001,"month":4,"date":2,"utc":true},{"year":2001,"month":7,"date":2,"utc":true},{"year":2001,"month":10,"date":1,"utc":true},{"year":2002,"month":1,"date":2,"utc":true},{"year":2002,"month":4,"date":1,"utc":true},{"year":2002,"month":7,"date":1,"utc":true},{"year":2002,"month":10,"date":1,"utc":true},{"year":2003,"month":1,"date":2,"utc":true},{"year":2003,"month":4,"date":1,"utc":true},{"year":2003,"month":7,"date":1,"utc":true},{"year":2003,"month":10,"date":1,"utc":true},{"year":2004,"month":1,"date":2,"utc":true},{"year":2004,"month":4,"date":1,"utc":true},{"year":2004,"month":7,"date":1,"utc":true},{"year":2004,"month":10,"date":1,"utc":true}]}},
"y":{"field":"v","type":"quantitative","scale":{"domain":[0,6],"nice":false,"zero":false},
"axis":{"values":[1,2,3,4,5,6],"labelOverlap":false,"labels":false,"ticks":false,"domain":false,"grid":true,"gridColor":{"condition":{"test":"datum.value == 6","value":"#9a9a9a"},"value":"#333333"},"gridWidth":{"condition":{"test":"datum.value == 6","value":2},"value":1.2},"title":null,"minExtent":40,"maxExtent":40}}},
"layer":[
{"mark":{"type":"rule","color":"#9a9a9a","strokeWidth":2},
"encoding":{"x":{"datum":{"year":2004,"month":10,"date":9,"utc":true},"type":"temporal"},
"y":{"datum":0,"type":"quantitative","axis":{"values":[1,2,3,4,5,6],"labelOverlap":false,"labels":false,"ticks":false,"domain":false,"grid":true,"gridColor":{"condition":{"test":"datum.value == 6","value":"#9a9a9a"},"value":"#333333"},"gridWidth":{"condition":{"test":"datum.value == 6","value":2},"value":1.2},"title":null,"minExtent":40,"maxExtent":40}},
"y2":{"datum":6}}},
{"mark":{"type":"tick","orient":"vertical","size":5,"thickness":1,"color":"#000"},
"encoding":{"y":{"datum":0,"type":"quantitative","axis":{"values":[1,2,3,4,5,6],"labelOverlap":false,"labels":false,"ticks":false,"domain":false,"grid":true,"gridColor":{"condition":{"test":"datum.value == 6","value":"#9a9a9a"},"value":"#333333"},"gridWidth":{"condition":{"test":"datum.value == 6","value":2},"value":1.2},"title":null,"minExtent":40,"maxExtent":40}}}},
{"transform":[{"regression":"v","on":"d","method":"poly","order":4}],"mark":{"type":"line","color":"#111","strokeWidth":1.6}},
{"mark":{"type":"line","strokeWidth":1.4,"point":{"filled":true,"shape":"diamond","size":30}},
"encoding":{"color":{"datum":"Kurtosis","scale":{"range":["#4b4b88"]},
"legend":{"orient":"none","legendX":0,"legendY":11,"title":null,"strokeColor":"#000","fillColor":"#fff","padding":1.5,"labelFontSize":7,"symbolType":"M-1,0L1,0","symbolSize":10,"symbolStrokeWidth":1,"labelOffset":1}}}}
]}
]}
]}
